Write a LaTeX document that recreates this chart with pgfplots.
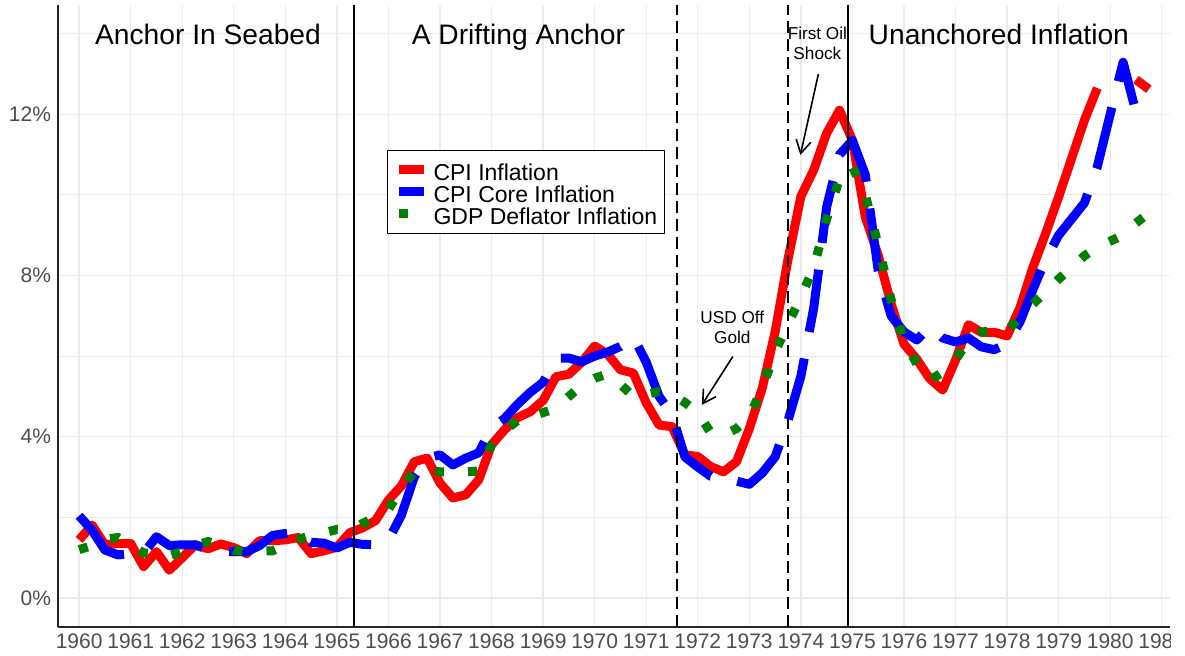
\documentclass[border=0pt]{standalone}
\usepackage{fontspec}
\setmainfont{Liberation Sans}
\usepackage{pgfplots}
\pgfplotsset{compat=1.18}
\usetikzlibrary{arrows.meta}
\definecolor{cpired}{RGB}{255,0,0}
\definecolor{coreblue}{RGB}{0,0,255}
\definecolor{gdpgreen}{RGB}{0,128,0}
\definecolor{ticklab}{RGB}{77,77,77}
\definecolor{gridc}{RGB}{235,235,235}
\begin{document}
\begin{tikzpicture}
\begin{axis}[
  name=ax,
  scale only axis,
  width=556pt, height=311pt,
  xmin=1959.59, xmax=1981.16,
  ymin=-0.72, ymax=14.71,
  axis x line=bottom, axis y line=left,
  axis line style={-, black!85, line width=0.6pt},
  xtick={1960,1961,...,1981},
  ytick={0,4,8,12},
  minor ytick={2,6,10,14},
  grid=both,
  major grid style={gridc, line width=0.7pt},
  minor grid style={gridc, line width=0.45pt},
  major tick length=0pt, minor tick length=0pt,
  /pgf/number format/assume math mode=true,
  /pgf/number format/1000 sep={},
  xticklabel style={font=\fontsize{10.5}{12}\selectfont, text=ticklab},
  yticklabel={\pgfmathprintnumber{\tick}\%},
  yticklabel style={font=\fontsize{10.5}{12}\selectfont, text=ticklab},
  unbounded coords=jump,
  legend cell align=left,
  legend image code/.code={\draw[#1] (0pt,0pt) -- (12.5pt,0pt);},
  legend style={at={(0.2959,0.7669)}, anchor=north west, draw=black, line width=0.5pt,
    fill=white, font=\fontsize{11.5}{11}\selectfont, inner xsep=3.5pt, inner ysep=4.25pt,
    row sep=0pt, column sep=2.5pt,
    nodes={inner sep=0pt, text height=10.75pt, text depth=0.25pt}},
]
\addplot[cpired, line width=4.5pt, line join=round] coordinates {
(1960.00,1.44)(1960.25,1.81)(1960.50,1.32)(1960.75,1.35)(1961.00,1.35)(1961.25,0.78)(1961.50,1.15)(1961.75,0.69)
(1962.00,1.00)(1962.25,1.32)(1962.50,1.22)(1962.75,1.34)(1963.00,1.25)(1963.25,1.10)(1963.50,1.42)(1963.75,1.42)
(1964.00,1.44)(1964.25,1.50)(1964.50,1.10)(1964.75,1.17)(1965.00,1.26)(1965.25,1.62)(1965.50,1.74)(1965.75,1.92)
(1966.00,2.43)(1966.25,2.78)(1966.50,3.38)(1966.75,3.47)(1967.00,2.85)(1967.25,2.48)(1967.50,2.56)(1967.75,2.93)
(1968.00,3.80)(1968.25,4.17)(1968.50,4.47)(1968.75,4.62)(1969.00,4.90)(1969.25,5.49)(1969.50,5.55)(1969.75,5.85)
(1970.00,6.25)(1970.25,6.05)(1970.50,5.66)(1970.75,5.58)(1971.00,4.84)(1971.25,4.29)(1971.50,4.25)(1971.75,3.55)
(1972.00,3.51)(1972.25,3.26)(1972.50,3.13)(1972.75,3.38)(1973.00,4.20)(1973.25,5.20)(1973.50,6.60)(1973.75,8.40)
(1974.00,9.96)(1974.25,10.62)(1974.50,11.53)(1974.75,12.10)(1975.00,11.35)(1975.25,9.45)(1975.50,8.50)(1975.75,7.30)
(1976.00,6.30)(1976.25,5.92)(1976.50,5.44)(1976.75,5.16)(1977.00,5.90)(1977.25,6.78)(1977.50,6.59)(1977.75,6.59)
(1978.00,6.50)(1978.25,7.20)(1978.50,8.20)(1978.75,9.05)(1979.00,9.95)(1979.25,10.90)(1979.50,11.85)(1979.75,12.65)
(1980.00,nan)(1980.25,nan)(1980.50,12.86)(1980.75,12.62)
};
\addlegendentry{CPI Inflation}
\addplot[coreblue, line width=4.5pt, line join=round, dash pattern=on 31.5pt off 13.5pt] coordinates {
(1960.00,2.04)(1960.25,1.68)(1960.50,1.19)(1960.75,1.07)(1961.00,1.10)(1961.25,1.11)(1961.50,1.52)(1961.75,1.30)
(1962.00,1.32)(1962.25,1.32)(1962.50,1.20)(1962.75,1.15)(1963.00,1.15)(1963.25,1.15)(1963.50,1.30)(1963.75,1.55)
(1964.00,1.60)(1964.25,1.64)(1964.50,1.38)(1964.75,1.36)(1965.00,1.24)(1965.25,1.38)(1965.50,1.33)(1965.75,1.32)
(1966.00,1.44)(1966.25,2.05)(1966.50,3.00)(1966.75,3.47)(1967.00,3.55)(1967.25,3.30)(1967.50,3.47)(1967.75,3.60)
(1968.00,4.22)(1968.25,4.45)(1968.50,4.80)(1968.75,5.10)(1969.00,5.35)(1969.25,5.95)(1969.50,5.95)(1969.75,5.86)
(1970.00,6.00)(1970.25,6.10)(1970.50,6.24)(1970.75,6.48)(1971.00,5.85)(1971.25,5.00)(1971.50,4.55)(1971.75,3.50)
(1972.00,3.25)(1972.25,3.02)(1972.50,2.95)(1972.75,2.90)(1973.00,2.82)(1973.25,3.10)(1973.50,3.50)(1973.75,4.40)
(1974.00,5.50)(1974.25,7.20)(1974.50,9.70)(1974.75,11.00)(1975.00,11.35)(1975.25,10.50)(1975.50,8.12)(1975.75,7.00)
(1976.00,6.60)(1976.25,6.40)(1976.50,6.74)(1976.75,6.45)(1977.00,6.35)(1977.25,6.45)(1977.50,6.23)(1977.75,6.16)
(1978.00,6.30)(1978.25,6.85)(1978.50,7.65)(1978.75,8.40)(1979.00,9.00)(1979.25,9.40)(1979.50,9.80)(1979.75,10.70)
(1980.00,12.00)(1980.25,13.29)(1980.50,12.05)(1980.75,12.10)
};
\addlegendentry{CPI Core Inflation}
\addplot[gdpgreen, line width=4.5pt, dash pattern=on 4.5pt off 12pt] coordinates {
(1960.00,1.20)(1960.25,1.30)(1960.50,1.45)(1960.75,1.50)(1961.00,1.30)(1961.25,1.12)(1961.50,1.08)(1961.75,1.05)
(1962.00,1.15)(1962.25,1.30)(1962.50,1.40)(1962.75,1.30)(1963.00,1.18)(1963.25,1.15)(1963.50,1.16)(1963.75,1.17)
(1964.00,1.30)(1964.25,1.45)(1964.50,1.55)(1964.75,1.62)(1965.00,1.70)(1965.25,1.68)(1965.50,1.85)(1965.75,2.00)
(1966.00,2.20)(1966.25,2.70)(1966.50,3.15)(1966.75,3.15)(1967.00,3.13)(1967.25,3.13)(1967.50,3.13)(1967.75,3.15)
(1968.00,3.80)(1968.25,4.15)(1968.50,4.40)(1968.75,4.50)(1969.00,4.60)(1969.25,4.70)(1969.50,5.00)(1969.75,5.28)
(1970.00,5.45)(1970.25,5.56)(1970.50,5.30)(1970.75,5.00)(1971.00,5.05)(1971.25,5.12)(1971.50,5.05)(1971.75,4.85)
(1972.00,4.60)(1972.25,4.10)(1972.50,4.05)(1972.75,4.20)(1973.00,4.50)(1973.25,5.20)(1973.50,6.10)(1973.75,6.80)
(1974.00,7.46)(1974.25,8.20)(1974.50,9.40)(1974.75,10.40)(1975.00,10.70)(1975.25,10.00)(1975.50,8.75)(1975.75,7.40)
(1976.00,6.40)(1976.25,5.80)(1976.50,5.40)(1976.75,5.60)(1977.00,5.90)(1977.25,6.40)(1977.50,6.60)(1977.75,6.62)
(1978.00,6.64)(1978.25,6.95)(1978.50,7.29)(1978.75,7.60)(1979.00,7.91)(1979.25,8.20)(1979.50,8.49)(1979.75,8.70)
(1980.00,8.85)(1980.25,9.00)(1980.50,9.30)(1980.75,9.55)
};
\addlegendentry{GDP Deflator Inflation}
% regime boundaries
\draw[black, line width=0.9pt] (axis cs:1965.33,-0.72) -- (axis cs:1965.33,14.71);
\draw[black, line width=0.9pt] (axis cs:1974.92,-0.72) -- (axis cs:1974.92,14.71);
\draw[black, line width=0.9pt, dash pattern=on 6pt off 3pt] (axis cs:1971.60,-0.72) -- (axis cs:1971.60,14.71);
\draw[black, line width=0.9pt, dash pattern=on 6pt off 3pt] (axis cs:1973.75,-0.72) -- (axis cs:1973.75,14.71);
% titles
\node[anchor=base, font=\fontsize{14.1}{16}\selectfont] at (axis cs:1962.50,13.72) {Anchor In Seabed};
\node[anchor=base, font=\fontsize{14.1}{16}\selectfont] at (axis cs:1968.52,13.72) {A Drifting Anchor};
\node[anchor=base, font=\fontsize{14.1}{16}\selectfont] at (axis cs:1977.84,13.72) {Unanchored Inflation};
% annotations
\node[align=center, font=\fontsize{8.6}{10}\selectfont] at (axis cs:1972.67,6.72) {USD Off\\Gold};
\draw[black, line width=0.8pt, -{Straight Barb[length=6.5pt, width=7.5pt]}] (axis cs:1972.68,5.99) -- (axis cs:1972.08,4.79);
\node[align=center, font=\fontsize{8.6}{10}\selectfont] at (axis cs:1974.32,13.75) {First Oil\\Shock};
\draw[black, line width=0.8pt, -{Straight Barb[length=6.5pt, width=7.5pt]}] (axis cs:1974.34,13.0) -- (axis cs:1973.99,10.99);
\end{axis}
% the reference clips the last tick label at the panel's right edge
\fill[white] ([shift={(0.6pt,-14pt)}]ax.south east) rectangle ([shift={(8pt,-0.4pt)}]ax.south east);
\pgfresetboundingbox
\path ([shift={(-29pt,-14pt)}]ax.south west) rectangle ([shift={(7.5pt,2.5pt)}]ax.north east);
\end{tikzpicture}
\end{document}
